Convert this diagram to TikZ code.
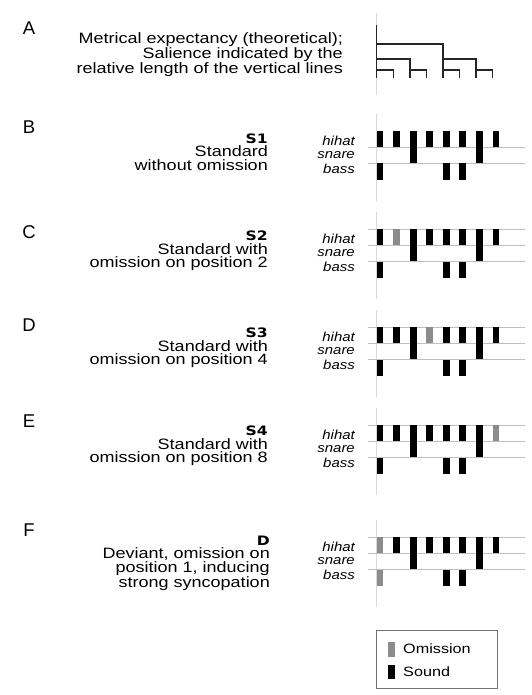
\documentclass[tikz,border=0pt]{standalone}
\usepackage{fontspec}
\setmainfont{Liberation Sans}[FakeStretch=1.2]
\newfontfamily\panelfont{Liberation Sans}
\newfontfamily\seqfont{DejaVu Sans}[FakeStretch=1.2]
\newfontfamily\instfont{Liberation Sans}[FakeStretch=1.15]
\usepackage{tikz}

\begin{document}
\begin{tikzpicture}[x=1pt,y=-1pt,
  panel/.style={inner sep=0pt,font=\panelfont\fontsize{18.5}{18.5}\selectfont},
  desc/.style={anchor=east,align=right,inner sep=0pt,font=\fontsize{15}{13.6}\selectfont},
  inst/.style={anchor=east,inner sep=0pt,font=\instfont\itshape\fontsize{13}{13}\selectfont},
  legendtext/.style={anchor=west,inner sep=0pt,font=\fontsize{13.5}{13.5}\selectfont},
  staff/.style={draw=black!25,line width=0.8pt},
  axis/.style={draw=black!15,line width=0.8pt},
  tree/.style={draw=black!85,line width=1.4pt},
  sound/.style={fill=black},
  omit/.style={fill=black!45},
  hit/.style={sound}
]
\useasboundingbox (0,0) rectangle (531,695);

% Panel letters
\node[panel] (pA) at (29,28) {A};
\node[panel] (pB) at (29,127) {B};
\node[panel] (pC) at (29,232) {C};
\node[panel] (pD) at (29,325) {D};
\node[panel] (pE) at (29,421) {E};
\node[panel] (pF) at (29,530) {F};

% Descriptions of the conditions
\node[desc] (descA) at (343,55) {Metrical expectancy (theoretical);\\Salience indicated by the\\relative length of the vertical lines};
\node[desc] (descB) at (268,152) {{\seqfont\bfseries\fontsize{13}{13.6}\selectfont S1}\\Standard\\without omission};
\node[desc] (descC) at (268,251) {{\seqfont\bfseries\fontsize{13}{13.6}\selectfont S2}\\Standard with\\omission on position 2};
\node[desc] (descD) at (268,348) {{\seqfont\bfseries\fontsize{13}{13.6}\selectfont S3}\\Standard with\\omission on position 4};
\node[desc] (descE) at (268,446) {{\seqfont\bfseries\fontsize{13}{13.6}\selectfont S4}\\Standard with\\omission on position 8};
\node[desc] (descF) at (270,563) {{\seqfont\bfseries\fontsize{13}{13.6}\selectfont D}\\Deviant, omission on\\position 1, inducing\\strong syncopation};

% Metrical tree
\draw[axis] (376.7,13) -- (376.7,95);
\draw[tree] (376.7,25) -- (376.7,78);
\draw[tree] (376.7,44) -- (442.9,44) -- (442.9,78);
\draw[tree] (376.7,59) -- (409.8,59) -- (409.8,78);
\draw[tree] (442.9,59) -- (476,59) -- (476,78);
\foreach \x in {376.7,409.8,442.9,476}
  \draw[tree] (\x,70) -- (\x+16.55,70) -- (\x+16.55,78);

% Drum patterns, one row per condition
\foreach \r/\yy/\gone in {B/131/0,C/229/2,D/327/4,E/425/8,F/537/1}{
  \draw[axis] (376.7,\yy-17) -- (376.7,\yy+70);
  \ifnum\yy=131\else\draw[staff] (368,\yy) -- (525,\yy);\fi
  \draw[staff] (368,\yy+16) -- (525,\yy+16);
  \draw[staff] (368,\yy+32) -- (525,\yy+32);
  \node[inst] (hihat\r) at (355,\yy+10) {hihat};
  \node[inst] (snare\r) at (355,\yy+24) {snare};
  \node[inst] (bass\r) at (355,\yy+38) {bass};
  \foreach \i in {1,...,8}{
    \pgfmathsetmacro\bx{376.7+16.55*(\i-1)}
    \pgfmathsetmacro\bh{(\i==3||\i==7)?32:16}
    \ifnum\i=\gone\tikzset{hit/.style={omit}}\else\tikzset{hit/.style={sound}}\fi
    \fill[hit] (\bx,\yy) rectangle ++(6.7,\bh);
  }
  \foreach \i in {1,5,6}{
    \pgfmathsetmacro\bx{376.7+16.55*(\i-1)}
    \ifnum\i=\gone\tikzset{hit/.style={omit}}\else\tikzset{hit/.style={sound}}\fi
    \fill[hit] (\bx,\yy+32.5) rectangle ++(6.7,16.5);
  }
}

% Legend
\draw[draw=black!55,line width=0.8pt] (376,630) rectangle (497,688);
\fill[omit] (388,642) rectangle (395,657);
\fill[sound] (388,665) rectangle (395,679);
\node[legendtext] (omitLbl) at (403,649) {Omission};
\node[legendtext] (soundLbl) at (403,672) {Sound};

\end{tikzpicture}
\end{document}
